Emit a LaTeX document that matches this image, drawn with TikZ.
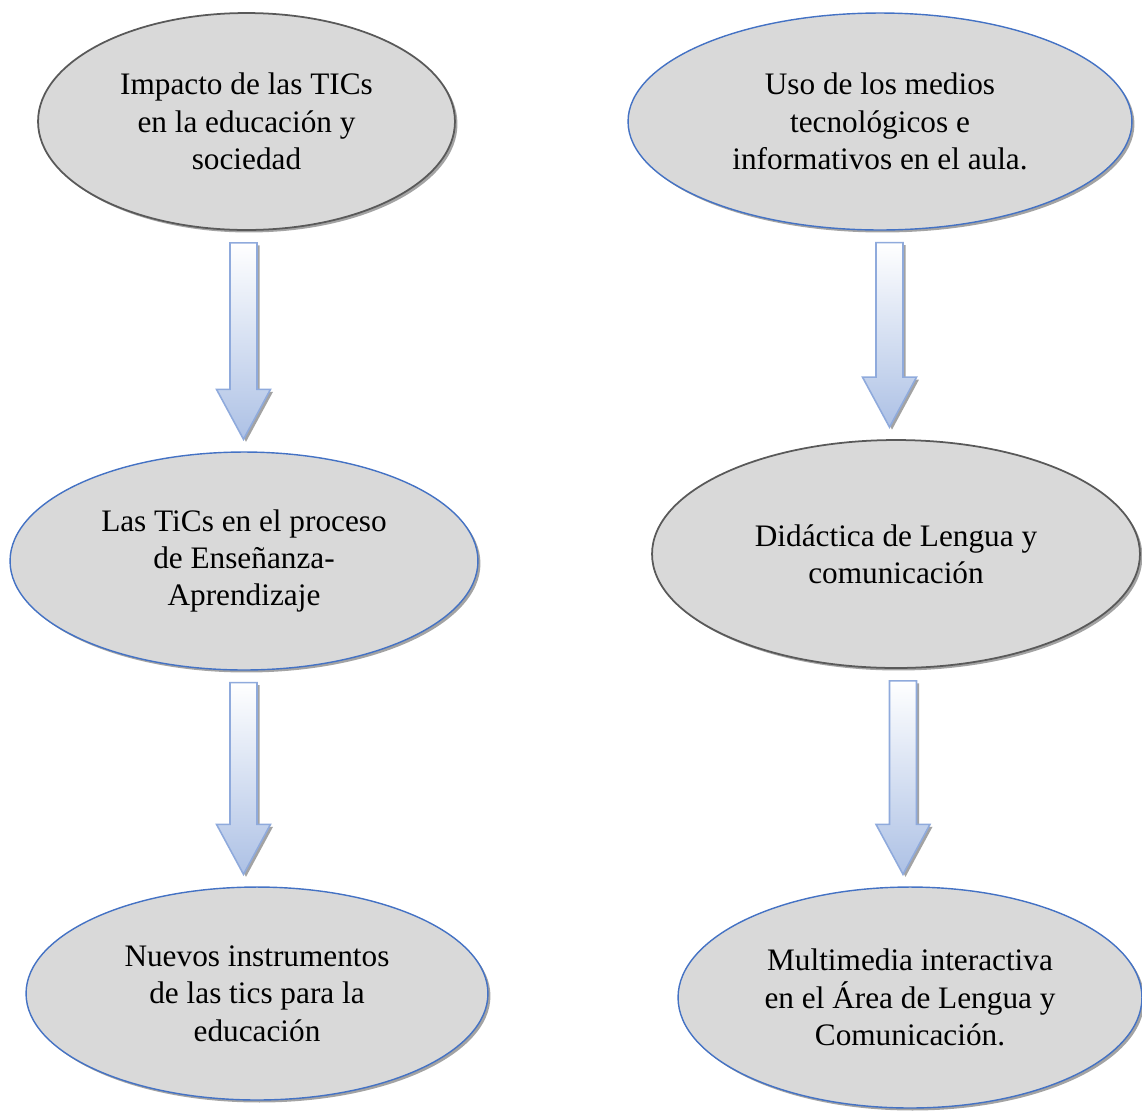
\documentclass[tikz,border=0pt]{standalone}
\usepackage{fontspec}
\setmainfont{Liberation Serif}
\usetikzlibrary{shapes.geometric,shadows,calc}
\definecolor{relleno}{HTML}{D9D9D9}
\definecolor{bordegris}{HTML}{595959}
\definecolor{bordeazul}{HTML}{4472C4}
\definecolor{flechaborde}{HTML}{8FAADC}
\definecolor{flechaazul}{HTML}{ADC1E5}
\definecolor{sombra}{HTML}{A3A3A3}
\tikzset{
sombreado/.style={drop shadow={shadow xshift=0.05cm, shadow yshift=-0.05cm, fill=sombra, opacity=1}},
tema/.style={ellipse, fill=relleno, inner sep=0pt, align=center, font=\fontsize{17.8}{21.3}\selectfont, sombreado},
gris/.style={tema, draw=bordegris, line width=1pt},
azul/.style={tema, draw=bordeazul, line width=0.8pt},
flecha/.style={draw=flechaborde, line width=0.9pt, top color=white, bottom color=flechaazul, sombreado}
}
\newcommand{\conectar}[3]{%
	\coordinate (t) at ($(#3,0 |- #1.south)+(0,12)$);
	\coordinate (p) at ($(#3,0 |- #2.north)+(0,-12)$);
	\path[flecha] ($(t)+(-13.5,0)$) -- ($(p)+(-13.5,-50)$) -- ($(p)+(-27,-50)$) -- (p)
		-- ($(p)+(27,-50)$) -- ($(p)+(13.5,-50)$) -- ($(t)+(13.5,0)$) -- cycle;
}
\begin{document}
\begin{tikzpicture}[x=0.02cm, y=-0.02cm]
	\useasboundingbox (0,0) rectangle (1142,1110);
	% columna izquierda
	\node[gris, minimum width=8.34cm, minimum height=4.34cm] (impacto) at (246.5,121.5) {Impacto de las TICs\\en la educación y\\sociedad};
	\node[azul, minimum width=9.36cm, minimum height=4.36cm] (proceso) at (244,561) {Las TiCs en el proceso\\de Enseñanza-\\Aprendizaje};
	\node[azul, minimum width=9.24cm, minimum height=4.26cm] (nuevos) at (257,993.5) {Nuevos instrumentos\\de las tics para la\\educación};
	% columna derecha
	\node[azul, minimum width=10.08cm, minimum height=4.34cm] (uso) at (880,121.5) {Uso de los medios\\tecnológicos e\\informativos en el aula.};
	\node[gris, minimum width=9.76cm, minimum height=4.56cm] (didactica) at (896,554) {Didáctica de Lengua y\\comunicación};
	\node[azul, minimum width=9.28cm, minimum height=4.42cm] (multimedia) at (910,997.5) {Multimedia interactiva\\en el Área de Lengua y\\Comunicación.};
	% flechas
	\conectar{impacto}{proceso}{243.5}
	\conectar{proceso}{nuevos}{243.5}
	\conectar{uso}{didactica}{889.5}
	\conectar{didactica}{multimedia}{903}
\end{tikzpicture}
\end{document}
